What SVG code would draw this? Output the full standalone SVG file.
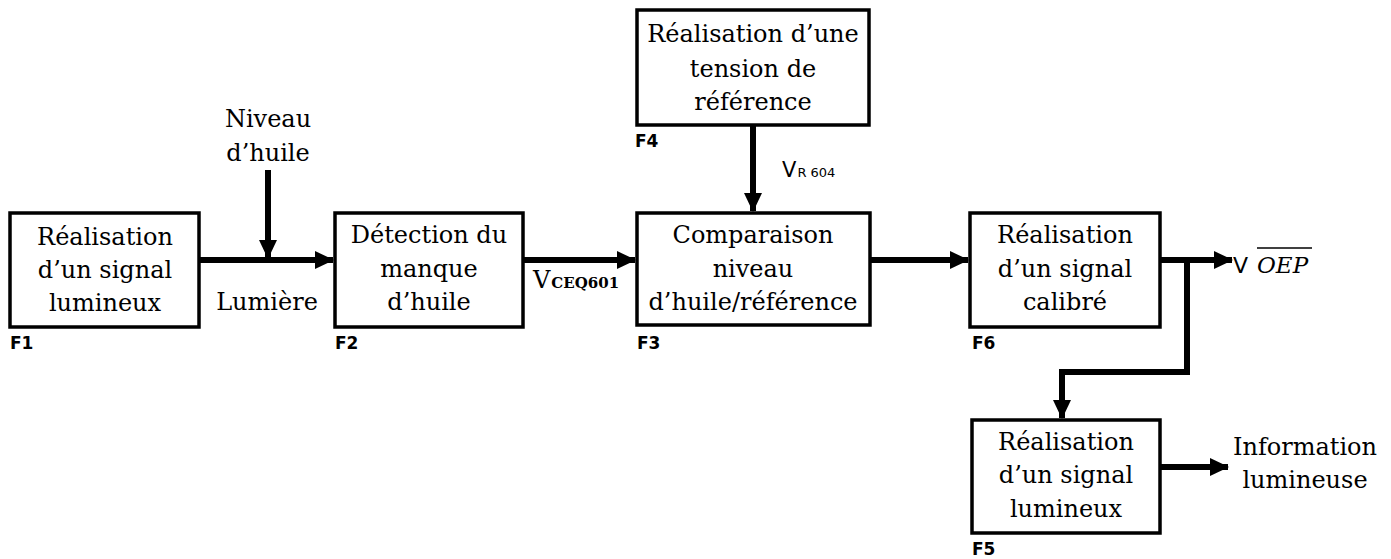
<svg xmlns="http://www.w3.org/2000/svg" width="1391" height="559" viewBox="0 0 1391 559">
<style>
.box{fill:#fff;stroke:#000;stroke-width:3.5}
.t{font-family:"DejaVu Serif","Liberation Serif",serif;font-size:24px;fill:#000;text-anchor:middle}
.f{font-family:"DejaVu Sans","Liberation Sans",sans-serif;font-size:17px;font-weight:bold;fill:#000}
.w{fill:none;stroke:#000;stroke-width:6}
.sub{font-family:"DejaVu Serif","Liberation Serif",serif;font-size:15px;font-weight:bold;fill:#000}
</style>
<defs>
<marker id="ah" markerUnits="userSpaceOnUse" markerWidth="20" markerHeight="20" viewBox="0 0 20 20" refX="18" refY="10" orient="auto">
<path d="M0,1 L19,10 L0,19 Z" fill="#000"/>
</marker>
</defs>
<rect width="1391" height="559" fill="#fff"/>
<g id="connectors">
<path class="w" d="M199,260 H333" marker-end="url(#ah)"/>
<path class="w" d="M268,170 V258" marker-end="url(#ah)"/>
<path class="w" d="M523,260 H635" marker-end="url(#ah)"/>
<path class="w" d="M753,125 V211" marker-end="url(#ah)"/>
<path class="w" d="M870,260 H968" marker-end="url(#ah)"/>
<path class="w" d="M1160,260 H1232" marker-end="url(#ah)"/>
<path class="w" d="M1187,260 V372 H1062 V418" marker-end="url(#ah)"/>
<path class="w" d="M1160,467 H1228" marker-end="url(#ah)"/>
</g>
<g id="labels">
<text class="t" x="268" y="127">Niveau</text>
<text class="t" x="268" y="161">d’huile</text>
<text class="t" x="267" y="310">Lumière</text>
<text x="533" y="288" style="font-family:'DejaVu Serif',serif;font-size:24px">V<tspan class="sub" dx="1">CEQ601</tspan></text>
<text x="782" y="177" style="font-family:'DejaVu Sans',sans-serif;font-size:21px">V<tspan style="font-size:13px" dx="1">R 604</tspan></text>
<text x="1233" y="273" style="font-family:'DejaVu Sans',sans-serif;font-size:22px">V</text>
<text x="1257" y="273" style="font-family:'DejaVu Serif',serif;font-size:23px;font-style:italic">OEP</text>
<line x1="1257" y1="248" x2="1312" y2="248" stroke="#000" stroke-width="1.5"/>
<text class="t" x="1305" y="455">Information</text>
<text class="t" x="1305" y="488">lumineuse</text>
</g>
<g id="F1">
<rect class="box" x="10" y="213" width="189" height="114"/>
<text class="t" x="105" y="245">Réalisation</text>
<text class="t" x="105" y="278">d’un signal</text>
<text class="t" x="105" y="311">lumineux</text>
<text class="f" x="10" y="349">F1</text>
</g>
<g id="F2">
<rect class="box" x="335" y="213" width="188" height="114"/>
<text class="t" x="429" y="243">Détection du</text>
<text class="t" x="429" y="277">manque</text>
<text class="t" x="429" y="310">d’huile</text>
<text class="f" x="335" y="349">F2</text>
</g>
<g id="F3">
<rect class="box" x="637" y="213" width="233" height="112"/>
<text class="t" x="753" y="243">Comparaison</text>
<text class="t" x="753" y="277">niveau</text>
<text class="t" x="753" y="310">d’huile/référence</text>
<text class="f" x="637" y="349">F3</text>
</g>
<g id="F4">
<rect class="box" x="637" y="10" width="232" height="115"/>
<text class="t" x="753" y="42">Réalisation d’une</text>
<text class="t" x="753" y="77">tension de</text>
<text class="t" x="753" y="110">référence</text>
<text class="f" x="635" y="147">F4</text>
</g>
<g id="F6">
<rect class="box" x="970" y="213" width="190" height="114"/>
<text class="t" x="1065" y="243">Réalisation</text>
<text class="t" x="1065" y="277">d’un signal</text>
<text class="t" x="1065" y="310">calibré</text>
<text class="f" x="972" y="349">F6</text>
</g>
<g id="F5">
<rect class="box" x="972" y="420" width="188" height="113"/>
<text class="t" x="1066" y="450">Réalisation</text>
<text class="t" x="1066" y="483">d’un signal</text>
<text class="t" x="1066" y="517">lumineux</text>
<text class="f" x="972" y="555">F5</text>
</g>
</svg>
